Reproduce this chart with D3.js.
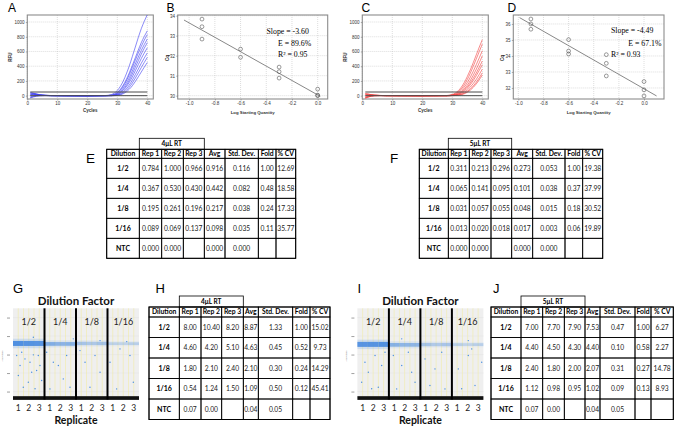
<!DOCTYPE html>
<html><head><meta charset="utf-8">
<script src="https://cdn.jsdelivr.net/npm/d3@7"></script>
<style>body{margin:0;background:#fff;} svg{display:block;} text{-webkit-font-smoothing:antialiased;}</style>
</head><body>
<svg id="c" width="675" height="426"></svg>
<script>
// ---------------- DATA ----------------
const cycles = [1,2,3,4,6,8,12,20,26,28,29,30,31,32,33,34,35,36,37,38,39,40];
const blueCurves = [
  [35,30,22,14,6,2,0,-2,2, 15,35,70,125,200,295,405,530,660,790,910,1010,1100],
  [-25,-12,-4,0,2,1,0,-1,1, 8,20,45,85,145,220,310,410,515,620,720,805,880],
  [20,28,20,10,4,1,-1,-2,0, 5,15,38,75,130,200,285,380,480,580,670,755,830],
  [-15,-5,2,5,3,1,0,-2,0, 3,10,28,58,105,168,245,335,430,525,615,695,770],
  [45,35,25,15,6,2,0,-1,1, 2,7,20,45,85,140,210,295,385,475,565,645,720],
  [5,15,12,8,3,1,0,-2,0, 1,5,15,38,72,120,182,255,338,422,505,580,650],
  [-30,-18,-8,-2,1,0,-1,-2,-1, 0,3,10,25,52,92,145,210,285,362,440,512,580],
  [25,18,10,5,2,0,-1,-2,0, 0,2,7,18,38,70,115,172,238,310,382,452,520],
  [10,20,15,8,3,1,0,-1,0, 0,1,4,12,27,52,88,135,192,256,322,388,450]
];
const redCurves = [
  [-30,-15,-5,0,2,1,0,-1,0, 2,6,16,36,68,115,180,260,350,450,555,660,760],
  [25,20,12,6,2,0,-1,-1,0, 1,4,11,26,52,92,148,220,305,400,500,600,700],
  [-20,-8,0,4,3,1,0,-1,0, 0,3,8,19,40,72,118,178,250,332,422,515,610],
  [10,18,14,8,3,1,0,-1,0, 0,2,5,13,29,54,92,142,205,278,360,448,540],
  [-35,-20,-8,-2,1,0,0,-1,0, 0,1,4,10,23,44,76,118,172,236,308,388,470],
  [30,22,14,8,3,1,0,-1,0, 0,1,3,8,18,35,62,100,148,206,272,345,420],
  [-10,0,5,5,2,1,0,-1,0, 0,0,2,5,12,25,46,76,116,165,222,289,360],
  [15,10,6,3,1,0,0,-1,0, 0,0,1,3,8,17,33,57,90,132,183,243,310],
  [-25,-15,-6,-1,1,0,0,-1,0, 0,0,1,2,6,13,26,46,75,113,160,216,280]
];
const thresholdLevels = [50, 0];
const thresholdCycles = [1, 40];
const rfuTicks = [0,200,400,600,800,1000];
const cycleTicks = [0,10,20,30,40];

const logQtyB = [-0.9,-0.9,-0.9,-0.6,-0.6,-0.3,-0.3,-0.3,0,0,0];
const cqB     = [33.83,33.45,32.83,32.33,31.92,31.43,31.2,30.88,30.33,30.03,30.0];
const fitB = [-3.60, 30.04];          // slope, intercept
const fitRangeB = [-1.04, 0.02];
const statsB = ["Slope = -3.60", "E = 89.6%", "R\u00B2 = 0.95"];
const cqTicksB = [30,31,32,33,34];

const logQtyD = [-0.9,-0.9,-0.9,-0.6,-0.6,-0.6,-0.3,-0.3,-0.3,0,0,0];
const cqD     = [36.31,36.0,35.67,35.02,34.31,34.12,34.08,33.54,32.75,32.4,31.88,31.5];
const fitD = [-4.49, 31.95];
const fitRangeD = [-0.99, 0.10];
const statsD = ["Slope = -4.49", "E = 67.1%", "R\u00B2 = 0.93"];
const cqTicksD = [32,33,34,35,36];
const logTicks = [-1.0,-0.8,-0.6,-0.4,-0.2,0.0];

const tableHeaders = ["Dilution","Rep 1","Rep 2","Rep 3","Avg","Std. Dev.","Fold","% CV"];
const dilutions = ["1/2","1/4","1/8","1/16","NTC"];
const valuesE = [
  ["0.784","1.000","0.966","0.916","0.116","1.00","12.69"],
  ["0.367","0.530","0.430","0.442","0.082","0.48","18.58"],
  ["0.195","0.261","0.196","0.217","0.038","0.24","17.33"],
  ["0.089","0.069","0.137","0.098","0.035","0.11","35.77"],
  ["0.000","0.000","","0.000","0.000","",""]
];
const valuesF = [
  ["0.311","0.213","0.296","0.273","0.053","1.00","19.38"],
  ["0.065","0.141","0.095","0.101","0.038","0.37","37.99"],
  ["0.031","0.057","0.055","0.048","0.015","0.18","30.52"],
  ["0.013","0.020","0.018","0.017","0.003","0.06","19.89"],
  ["0.000","0.000","","0.000","0.000","",""]
];
const valuesH = [
  ["8.00","10.40","8.20","8.87","1.33","1.00","15.02"],
  ["4.60","4.20","5.10","4.63","0.45","0.52","9.73"],
  ["1.80","2.10","2.40","2.10","0.30","0.24","14.29"],
  ["0.54","1.24","1.50","1.09","0.50","0.12","45.41"],
  ["0.07","0.00","","0.04","0.05","",""]
];
const valuesJ = [
  ["7.00","7.70","7.90","7.53","0.47","1.00","6.27"],
  ["4.40","4.50","4.30","4.40","0.10","0.58","2.27"],
  ["2.40","1.80","2.00","2.07","0.31","0.27","14.78"],
  ["1.12","0.98","0.95","1.02","0.09","0.13","8.93"],
  ["0.07","0.00","","0.04","0.05","",""]
];

const dilutionFactors = ["1/2","1/4","1/8","1/16"];
const replicates = ["1","2","3"];
const ampTicks = [2000,4000,6000,8000,10000];
const bandAmpG = [7200,7150,7200,7180];
const bandAmpI = [7100,7050,7080,7080];
const bandHalf = [270,200,180,150];
const bandDensityG = [0.85,0.82,0.8, 0.55,0.5,0.52, 0.35,0.32,0.36, 0.24,0.22,0.26];
const bandDensityI = [0.8,0.82,0.85, 0.52,0.48,0.48, 0.35,0.3,0.34, 0.26,0.22,0.26];
const negBandAmp = [1100, 1500];
const rainG = [[0.35,5900],[0.67,4810],[1.14,5530],[1.62,5170],[1.94,5970],[2.25,4270],[2.57,4810],[0.51,3730],[1.46,3010],[0.98,2460],[2.41,5890],[2.73,3190],[1.78,4090],[0.83,6250],[2.10,2300],
  [3.21,6250],[3.84,5170],[4.32,4810],[5.11,5890],[4.79,3370],[5.43,2460],[3.52,2290],
  [6.38,6430],[6.86,5170],[7.81,5890],[8.29,4090],[7.33,2460],
  [9.24,5170],[10.19,6610],[11.14,5890],[11.46,3010],[9.87,2290],
  [1.94,7870],[5.74,7700],[8.29,7510],[10.83,7400]];
const rainI = [[0.72,5170],[1.68,5890],[1.04,4090],[2.31,4810],[0.41,3010],[1.99,2460],[2.63,6250],[1.36,2300],
  [3.42,5890],[4.22,4810],[4.85,6250],[5.49,3010],[3.74,2290],[5.17,4090],
  [6.44,5530],[7.39,4450],[8.03,6250],[6.91,2650],[8.34,2290],
  [9.61,4450],[10.56,5890],[11.2,2650],[11.84,5170],[9.93,2300],[10.89,6610],
  [4.22,7700],[10.56,7510]];

// ---------------- DRAW ----------------
const svg = d3.select("#c");
const SANS = "'Liberation Sans', Arial, sans-serif";
const SERIF = "'Liberation Serif', 'Times New Roman', serif";
const CAL = "Lato, Carlito, Calibri, sans-serif";
let clipId = 0;

function frameAxes(g, x, y, xTicks, yTicks, xFmt, yFmt) {
  const [xa, xb] = x.range(), [ya, yb] = y.range();
  g.append("g").selectAll("line").data(xTicks).join("line")
    .attr("x1", d => x(d)).attr("x2", d => x(d)).attr("y1", yb).attr("y2", ya)
    .attr("stroke", "#bbb").attr("stroke-width", 0.5).attr("stroke-dasharray", "1,1");
  g.append("g").selectAll("line").data(yTicks).join("line")
    .attr("y1", d => y(d)).attr("y2", d => y(d)).attr("x1", xa).attr("x2", xb)
    .attr("stroke", "#bbb").attr("stroke-width", 0.5).attr("stroke-dasharray", "1,1");
  g.append("rect").attr("x", xa).attr("y", yb).attr("width", xb - xa).attr("height", ya - yb)
    .attr("fill", "none").attr("stroke", "#8c8c8c").attr("stroke-width", 1.1);
  const ax = g.append("g").attr("transform", `translate(0,${ya})`)
    .call(d3.axisBottom(x).tickValues(xTicks).tickSize(1.5).tickPadding(1.2).tickFormat(xFmt));
  ax.select(".domain").remove();
  ax.selectAll("text").attr("font-size", 4.5).attr("font-family", SANS).attr("fill", "#333");
  ax.selectAll("line").attr("stroke", "#666").attr("stroke-width", 0.5);
  const ay = g.append("g").attr("transform", `translate(${xa},0)`)
    .call(d3.axisLeft(y).tickValues(yTicks).tickSize(1.5).tickPadding(1.2).tickFormat(yFmt));
  ay.select(".domain").remove();
  ay.selectAll("text").attr("font-size", 4.5).attr("font-family", SANS).attr("fill", "#333");
  ay.selectAll("line").attr("stroke", "#666").attr("stroke-width", 0.5);
}

function addClip(x0, y0, w, h) {
  const id = "clip" + (clipId++);
  svg.append("clipPath").attr("id", id).append("rect").attr("x", x0).attr("y", y0).attr("width", w).attr("height", h);
  return `url(#${id})`;
}

function drawAmp(x0, curves, color) {
  const g = svg.append("g");
  const x = d3.scaleLinear().domain([0, 42]).range([x0, x0 + 126]);
  const y = d3.scaleLinear().domain([-45, 1095]).range([99, 15]);
  frameAxes(g, x, y, cycleTicks, rfuTicks, d => d, d => d);
  const clip = addClip(x0, 15, 126, 84);
  const line = d3.line().x((d, i) => x(cycles[i])).y(d => y(d)).curve(d3.curveMonotoneX);
  g.append("g").attr("clip-path", clip).selectAll("path").data(curves).join("path")
    .attr("d", line).attr("fill", "none").attr("stroke", color).attr("stroke-width", 0.7).attr("stroke-opacity", 0.85);
  g.append("g").selectAll("line").data(thresholdLevels).join("line")
    .attr("x1", x(thresholdCycles[0])).attr("x2", x(thresholdCycles[1]))
    .attr("y1", d => y(d)).attr("y2", d => y(d)).attr("stroke", "#4a4a4a").attr("stroke-width", 1);
  g.append("text").attr("x", (x.range()[0] + x.range()[1]) / 2).attr("y", 112)
    .attr("text-anchor", "middle").attr("font-size", 4.5).attr("font-family", SANS).attr("font-weight", "bold").attr("fill", "#333").text("Cycles");
  g.append("text").attr("transform", `translate(${x0 - 15},57) rotate(-90)`)
    .attr("text-anchor", "middle").attr("font-size", 4.5).attr("font-family", SANS).attr("font-weight", "bold").attr("fill", "#333").text("RFU");
}

function drawStd(xr, xd, yd, yTicks, xs, ys, fit, fitRange, stats, statPos) {
  const g = svg.append("g");
  const x = d3.scaleLinear().domain(xd).range(xr);
  const y = d3.scaleLinear().domain(yd).range([99, 15]);
  frameAxes(g, x, y, logTicks, yTicks, d => d.toFixed(1), d => d);
  g.append("line").attr("x1", x(fitRange[0])).attr("x2", x(fitRange[1]))
    .attr("y1", y(fit[1] + fit[0] * fitRange[0])).attr("y2", y(fit[1] + fit[0] * fitRange[1]))
    .attr("stroke", "#6a6a6a").attr("stroke-width", 0.8);
  g.append("g").selectAll("circle").data(xs).join("circle")
    .attr("cx", d => x(d)).attr("cy", (d, i) => y(ys[i])).attr("r", 1.9)
    .attr("fill", "none").attr("stroke", "#555").attr("stroke-width", 0.6);
  g.append("g").selectAll("text").data(stats).join("text")
    .attr("x", (d, i) => statPos[i][0]).attr("y", (d, i) => statPos[i][1])
    .attr("font-size", 7.8).attr("font-family", SERIF).attr("fill", "#000").text(d => d);
  g.append("text").attr("x", (xr[0] + xr[1]) / 2).attr("y", 113.5)
    .attr("text-anchor", "middle").attr("font-size", 4.3).attr("font-family", SANS).attr("font-weight", "bold").attr("fill", "#333").text("Log Starting Quantity");
  g.append("text").attr("transform", `translate(${xr[0] - 9},58) rotate(-90)`)
    .attr("text-anchor", "middle").attr("font-size", 5).attr("font-family", SANS).attr("font-weight", "bold").attr("fill", "#333").text("Cq");
}

function drawTable(x0, y0, boxH, headH, rowH, widths, rtLabel, values) {
  const g = svg.append("g").attr("transform", `translate(${x0},${y0})`);
  const xs = [0, ...d3.cumsum(widths)];
  const yRows = boxH + headH;
  const yRow = d3.scaleBand().domain(d3.range(dilutions.length)).range([yRows, yRows + rowH * dilutions.length]);
  const sw = 0.8;
  g.append("rect").attr("x", xs[1]).attr("y", 0).attr("width", xs[4] - xs[1]).attr("height", boxH)
    .attr("fill", "none").attr("stroke", "#000").attr("stroke-width", sw);
  g.append("text").attr("x", (xs[1] + xs[4]) / 2).attr("y", boxH / 2 + 2.3)
    .attr("text-anchor", "middle").attr("font-size", 6.5).attr("font-weight", "bold").attr("font-family", CAL).text(rtLabel);
  const hg = g.append("g").selectAll("g").data(tableHeaders).join("g");
  hg.append("rect").attr("x", (d, i) => xs[i]).attr("y", boxH).attr("width", (d, i) => widths[i]).attr("height", headH)
    .attr("fill", "none").attr("stroke", "#000").attr("stroke-width", sw);
  hg.append("text").attr("x", (d, i) => xs[i] + widths[i] / 2).attr("y", boxH + headH / 2 + 2.4)
    .attr("text-anchor", "middle").attr("font-size", 6.8).attr("font-weight", "bold").attr("font-family", CAL).text(d => d);
  dilutions.forEach((dil, r) => {
    const cells = [dil, ...values[r]];
    const rg = g.append("g").selectAll("g").data(cells).join("g");
    rg.append("rect").attr("x", (d, i) => xs[i]).attr("y", yRow(r)).attr("width", (d, i) => widths[i]).attr("height", yRow.bandwidth())
      .attr("fill", "none").attr("stroke", "#000").attr("stroke-width", sw);
    rg.append("text").attr("x", (d, i) => xs[i] + widths[i] / 2).attr("y", yRow(r) + yRow.bandwidth() / 2 + 2.4)
      .attr("text-anchor", "middle").attr("font-family", CAL)
      .attr("font-size", (d, i) => i === 0 ? 7 : 6.7).attr("font-weight", (d, i) => i === 0 ? "bold" : "normal")
      .attr("fill", (d, i) => i === 0 ? "#000" : "#222").text(d => d);
  });
  g.append("rect").attr("x", 0).attr("y", boxH).attr("width", xs[xs.length - 1]).attr("height", headH + rowH * dilutions.length)
    .attr("fill", "none").attr("stroke", "#000").attr("stroke-width", 1);
}

function drawDroplet(x0, bandAmp, density, rain) {
  const g = svg.append("g");
  const xRep = d3.scaleLinear().domain([0, 12]).range([x0, x0 + 126]);
  const yAmp = d3.scaleLinear().domain([1250, 11000]).range([398.5, 308.3]);
  const [yb, yt] = yAmp.range();
  const dil = d => Math.floor(d / 3);
  g.append("rect").attr("x", xRep(0)).attr("y", yt).attr("width", xRep(12) - xRep(0)).attr("height", yb - yt).attr("fill", "#efefef");
  g.append("g").selectAll("line").data(ampTicks).join("line")
    .attr("x1", xRep(0)).attr("x2", xRep(12)).attr("y1", d => yAmp(d)).attr("y2", d => yAmp(d))
    .attr("stroke", "#e3e3e3").attr("stroke-width", 0.5);
  g.append("g").selectAll("line").data([0.5,1,1.5,2,2.5,3.5,4,4.5,5,5.5,6.5,7,7.5,8,8.5,9.5,10,10.5,11,11.5]).join("line")
    .attr("x1", d => xRep(d)).attr("x2", d => xRep(d)).attr("y1", yt).attr("y2", yb)
    .attr("stroke", "#f1eba6").attr("stroke-width", 0.6);
  const reps = d3.range(12);
  g.append("g").selectAll("rect").data(reps).join("rect")
    .attr("x", d => xRep(d)).attr("width", xRep(1) - xRep(0))
    .attr("y", d => yAmp(bandAmp[dil(d)] + bandHalf[dil(d)] * 1.9))
    .attr("height", d => yAmp(bandAmp[dil(d)] - bandHalf[dil(d)] * 1.9) - yAmp(bandAmp[dil(d)] + bandHalf[dil(d)] * 1.9))
    .attr("fill", "#6aa3e8").attr("opacity", d => density[d] * 0.3);
  g.append("g").selectAll("rect").data(reps).join("rect")
    .attr("x", d => xRep(d)).attr("width", xRep(1) - xRep(0))
    .attr("y", d => yAmp(bandAmp[dil(d)] + bandHalf[dil(d)]))
    .attr("height", d => yAmp(bandAmp[dil(d)] - bandHalf[dil(d)]) - yAmp(bandAmp[dil(d)] + bandHalf[dil(d)]))
    .attr("fill", "#3a82de").attr("opacity", d => density[d]);
  g.append("g").selectAll("circle").data(rain).join("circle")
    .attr("cx", d => xRep(d[0])).attr("cy", d => yAmp(d[1])).attr("r", 0.7).attr("fill", "#4a8fe0");
  g.append("rect").attr("x", xRep(0)).attr("width", xRep(12) - xRep(0))
    .attr("y", yAmp(negBandAmp[1])).attr("height", yAmp(negBandAmp[0]) - yAmp(negBandAmp[1])).attr("fill", "#111");
  g.append("g").selectAll("line").data([3, 6, 9]).join("line")
    .attr("x1", d => xRep(d)).attr("x2", d => xRep(d)).attr("y1", yt).attr("y2", yb + 1)
    .attr("stroke", "#000").attr("stroke-width", 2);
  const ay = g.append("g").attr("transform", `translate(${xRep(0) - 3},0)`)
    .call(d3.axisLeft(yAmp).tickValues(ampTicks).tickSize(3).tickFormat(""));
  ay.select(".domain").remove();
  ay.selectAll("line").attr("stroke", "#777").attr("stroke-width", 0.7);
  g.append("text").attr("transform", `translate(${xRep(0) - 10},356) rotate(-90)`)
    .attr("text-anchor", "middle").attr("font-size", 2.5).attr("font-family", SANS).attr("fill", "#888").text("Amplitude");
  g.append("g").selectAll("text").data(dilutionFactors).join("text")
    .attr("x", (d, i) => xRep(i * 3 + 1.5)).attr("y", 324.5).attr("text-anchor", "middle")
    .attr("font-size", 9).attr("font-family", CAL).attr("fill", "#222").text(d => d);
  const repLabels = d3.range(12).map(i => replicates[i % 3]);
  g.append("g").selectAll("text").data(repLabels).join("text")
    .attr("x", (d, i) => xRep(i + 0.5)).attr("y", 411).attr("text-anchor", "middle")
    .attr("font-size", 8.5).attr("font-family", CAL).attr("fill", "#222").text(d => d);
  g.append("text").attr("x", xRep(6)).attr("y", 304.5).attr("text-anchor", "middle")
    .attr("font-size", 11.5).attr("font-weight", "bold").attr("font-family", CAL).attr("fill", "#111").text("Dilution Factor");
  g.append("text").attr("x", xRep(6)).attr("y", 423.5).attr("text-anchor", "middle")
    .attr("font-size", 10.5).attr("font-weight", "bold").attr("font-family", CAL).attr("fill", "#111").text("Replicate");
}

drawAmp(27.3, blueCurves, "#3b3bf2");
drawStd([177.7, 327.7], [-1.089, 0.078], [29.835, 34.035], cqTicksB, logQtyB, cqB, fitB, fitRangeB, statsB,
  [[266.5, 34], [278, 45.7], [278, 56.7]]);
drawAmp(362.3, redCurves, "#f23b3b");
drawStd([513.3, 664], [-1.04, 0.159], [31.31, 36.56], cqTicksD, logQtyD, cqD, fitD, fitRangeD, statsD,
  [[611, 33.3], [628.3, 45.7], [611, 56.7]]);

drawTable(106.7, 138.3, 11, 9, 20, [32.6, 22.4, 21.6, 21, 20.7, 33.3, 17.7, 19.7], "4\u03BCL RT", valuesE);
drawTable(419.3, 138.3, 11, 9, 20, [29, 21, 21.7, 20.7, 21, 32.3, 17.7, 20], "5\u03BCL RT", valuesF);
drawTable(149, 296, 11, 10, 20.5, [30.3, 21.7, 20.7, 21.6, 15, 34.4, 17.3, 20], "4\u03BCL RT", valuesH);
drawTable(491, 296, 11, 10, 20.5, [30, 21.7, 21.6, 20.7, 15, 35, 16, 22.3], "5\u03BCL RT", valuesJ);

drawDroplet(13, bandAmpG, bandDensityG, rainG);
drawDroplet(357.4, bandAmpI, bandDensityI, rainI);

const letters = [["A",8,11.7,12],["B",166.5,11.7,12],["C",361.5,11.7,12],["D",507.5,11.7,12],
  ["E",86,163,13.5],["F",390,163,13.5],["G",13,292.5,13],["H",155.5,292.5,13],["I",357.5,292.5,13],["J",493,292.5,13]];
svg.append("g").selectAll("text").data(letters).join("text")
  .attr("x", d => d[1]).attr("y", d => d[2]).attr("font-size", d => d[3]).attr("font-family", SANS).attr("fill", "#000").text(d => d[0]);
</script>
</body></html>
